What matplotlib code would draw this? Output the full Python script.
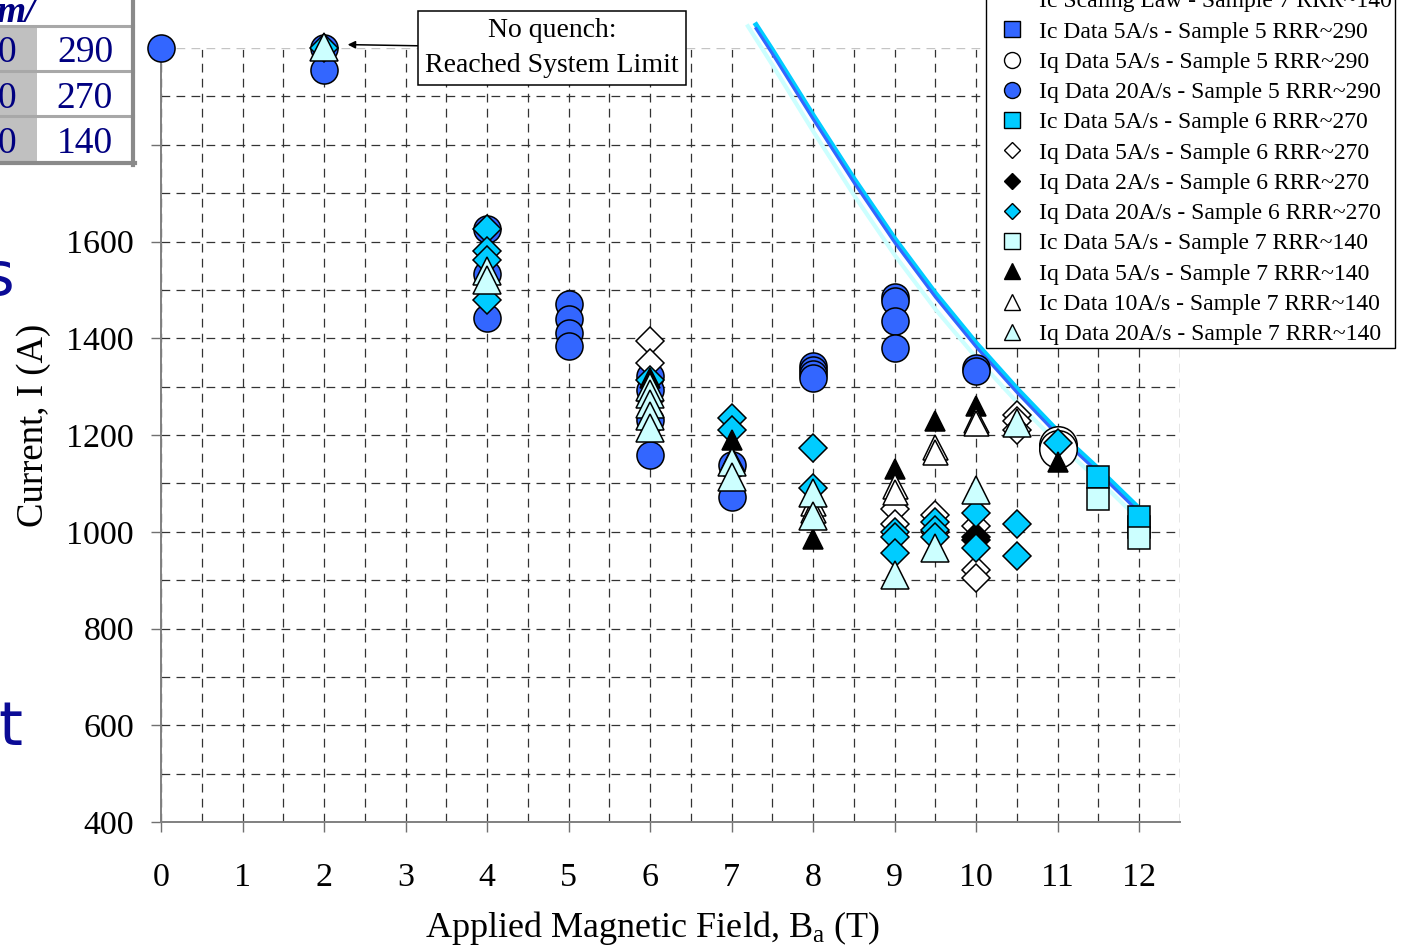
import matplotlib
matplotlib.use('Agg')
import matplotlib.pyplot as plt
from matplotlib.patches import Rectangle
from matplotlib.lines import Line2D
from matplotlib.ticker import MultipleLocator

# ---------------- data ----------------
# Ic scaling-law curves (field in T, current in A)
law_b = [7.3, 7.5, 8.0, 8.5, 9.0, 9.5, 10.0, 10.5, 11.0, 11.5, 12.0]
law_s5 = [2040, 1988, 1853, 1722, 1598, 1485, 1382, 1288, 1200, 1122, 1040]
law_s6 = [2048, 1996, 1861, 1730, 1606, 1493, 1390, 1296, 1208, 1130, 1048]
law_b7 = [7.2, 7.5, 8.0, 8.5, 9.0, 9.5, 10.0, 10.5, 11.0, 11.5, 12.0]
law_s7 = [2045, 1965, 1828, 1696, 1572, 1460, 1360, 1268, 1183, 1107, 1025]

# Sample 5, RRR~290
ic5_s5_b = [11, 12]
ic5_s5_i = [1175, 1010]
iq5_s5_b = [11, 11]
iq5_s5_i = [1180, 1172]
iq20_s5_b = [0, 2, 2, 4, 4, 4, 5, 5, 5, 5, 6, 6, 6, 6, 7, 7,
             8, 8, 8, 8, 9, 9, 9, 9, 10, 10]
iq20_s5_i = [2000, 2000, 1955, 1625, 1532, 1441, 1470, 1440, 1410, 1385,
             1321, 1294, 1232, 1159, 1137, 1071, 1342, 1335, 1327, 1318,
             1485, 1478, 1435, 1380, 1339, 1332]

# Sample 6, RRR~270
ic5_s6_b = [11.5, 12]
ic5_s6_i = [1114, 1030]
iq5_s6_b = [6, 6, 9, 9, 9.5, 9.5, 10, 10, 10, 10.5, 10.5, 10.5]
iq5_s6_i = [1395, 1349, 1047, 1015, 1035, 1000, 1011, 921, 904, 1242, 1228, 1211]
iq2_s6_b = [10, 10]
iq2_s6_i = [990, 982]
iq20_s6_b = [2, 4, 4, 4, 4, 6, 7, 7, 8, 8, 9, 9, 9, 9.5, 9.5, 9.5,
             10, 10, 10.5, 10.5, 11]
iq20_s6_i = [2000, 1625, 1580, 1562, 1480, 1314, 1235, 1211, 1174, 1090,
             999, 990, 956, 1021, 1004, 990, 1039, 966, 1016, 949, 1184]

# Sample 7, RRR~140
ic5_s7_b = [11.5, 12]
ic5_s7_i = [1068, 988]
iq5_s7_b = [6, 7, 8, 9, 9.5, 10, 11]
iq5_s7_i = [1318, 1189, 985, 1130, 1228, 1259, 1145]
ic10_s7_b = [6, 7, 8, 8, 9, 9, 9.5, 9.5, 10, 10]
ic10_s7_i = [1295, 1150, 1060, 1045, 1094, 1083, 1175, 1165, 1232, 1225]
iq20_s7_b = [2, 4, 4, 6, 6, 6, 6, 6, 7, 7, 8, 8, 9, 9.5, 10, 10.5]
iq20_s7_i = [2002, 1540, 1520, 1300, 1285, 1265, 1240, 1215, 1144, 1114,
             1081, 1032, 911, 967, 1087, 1225]

# RRR table fragment
rrr_values = ['290', '270', '140']

# ---------------- style ----------------
BLUE = '#3366FF'
CYAN = '#00CCFF'
LCYAN = '#CCFFFF'
NAVY = '#000080'

plt.rcParams['font.family'] = ['Liberation Serif', 'DejaVu Serif']
plt.rcParams['mathtext.fontset'] = 'custom'
plt.rcParams['mathtext.rm'] = 'Liberation Serif'
plt.rcParams['mathtext.it'] = 'Liberation Serif:italic'

W, H = 1407, 946
fig = plt.figure(figsize=(W / 100, H / 100), dpi=100)


def fx(px):
    return px / W


def fy(py):
    return 1 - py / H


ax = fig.add_axes([fx(161), fy(822), fx(1180) - fx(161), fy(48) - fy(822)])
ax.set_xlim(0, 12.5)
ax.set_ylim(400, 2000)

# scaling-law curves
ax.plot(law_b, law_s5, color=BLUE, lw=2.2, zorder=2.3, clip_on=False,
        label='Ic Scaling Law - Sample 5 RRR~290')
ax.plot(law_b, law_s6, color=CYAN, lw=3.6, zorder=2.2, clip_on=False,
        label='Ic Scaling Law - Sample 6 RRR~270')
ax.plot(law_b7, law_s7, color=LCYAN, lw=3.0, zorder=2.1, clip_on=False,
        label='Ic Scaling Law - Sample 7 RRR~140')

mk = dict(ls='none', mec='black', mew=1.1, clip_on=False, zorder=3)
SQ, CI, DI = 16.5, 19.5, 14.2
ax.plot(ic5_s5_b, ic5_s5_i, marker='s', ms=SQ, mfc=BLUE,
        label='Ic Data 5A/s - Sample 5 RRR~290', **mk)
ax.plot(iq5_s5_b, iq5_s5_i, marker='o', ms=27, mfc='white',
        label='Iq Data 5A/s - Sample 5 RRR~290', **mk)
ax.plot(iq20_s5_b, iq20_s5_i, marker='o', ms=CI, mfc=BLUE,
        label='Iq Data 20A/s - Sample 5 RRR~290', **mk)
ax.plot(ic5_s6_b, ic5_s6_i, marker='s', ms=SQ, mfc=CYAN,
        label='Ic Data 5A/s - Sample 6 RRR~270', **mk)
ax.plot(iq5_s6_b, iq5_s6_i, marker='D', ms=DI, mfc='white',
        label='Iq Data 5A/s - Sample 6 RRR~270', **mk)
ax.plot(iq2_s6_b, iq2_s6_i, marker='D', ms=DI, mfc='black',
        label='Iq Data 2A/s - Sample 6 RRR~270', **mk)
ax.plot(iq20_s6_b, iq20_s6_i, marker='D', ms=DI, mfc=CYAN,
        label='Iq Data 20A/s - Sample 6 RRR~270', **mk)
ax.plot(ic5_s7_b, ic5_s7_i, marker='s', ms=SQ, mfc=LCYAN,
        label='Ic Data 5A/s - Sample 7 RRR~140', **mk)
ax.plot(iq5_s7_b, iq5_s7_i, marker='^', ms=14.5, mfc='black',
        label='Iq Data 5A/s - Sample 7 RRR~140', **mk)
ax.plot(ic10_s7_b, ic10_s7_i, marker='^', ms=18, mfc='white',
        label='Ic Data 10A/s - Sample 7 RRR~140', **mk)
ax.plot(iq20_s7_b, iq20_s7_i, marker='^', ms=20, mfc=LCYAN,
        label='Iq Data 20A/s - Sample 7 RRR~140', **mk)

# axes, ticks, grid
ax.xaxis.set_major_locator(MultipleLocator(1))
ax.xaxis.set_minor_locator(MultipleLocator(0.5))
ax.yaxis.set_major_locator(MultipleLocator(200))
ax.yaxis.set_minor_locator(MultipleLocator(100))
ax.set_axisbelow(True)
ax.grid(which='both', color='#333333', linestyle=(0, (7, 5)), linewidth=0.9)
ax.axhline(2000, color='white', lw=2.0, zorder=0.6)
ax.axhline(2000, color='#C4C4C4', lw=0.9, ls=(0, (7, 5)), zorder=0.7)
for side in ('top', 'right'):
    ax.spines[side].set_visible(False)
for side in ('left', 'bottom'):
    ax.spines[side].set_color('#808080')
    ax.spines[side].set_linewidth(1.4)
ax.tick_params(which='major', direction='out', length=7.5, width=1,
               color='#707070', labelsize=24.5)
ax.tick_params(which='minor', length=0)
ax.tick_params(axis='x', pad=22)
ax.tick_params(axis='y', pad=12)

ax.set_xlabel('Applied Magnetic Field, B$_{\\mathrm{a}}$ (T)', fontsize=26)
ax.xaxis.set_label_coords(0.4828, -0.113)
ax.set_ylabel('Current, I (A)', fontsize=26.5)
ax.yaxis.set_label_coords(-0.1075, 0.513)

# annotation box
ax.annotate('No quench:\nReached System Limit', xy=(2.29, 2007), xycoords='data',
            xytext=(fx(552), fy(48)), textcoords='figure fraction',
            ha='center', va='center', fontsize=20, linespacing=1.5,
            bbox=dict(boxstyle='square,pad=0.25', fc='white', ec='black', lw=1.1),
            arrowprops=dict(arrowstyle='-|>', color='black', lw=1.1,
                            shrinkA=0, shrinkB=0, mutation_scale=11),
            annotation_clip=False, zorder=5)

# legend
leg = ax.legend(loc='lower right', bbox_to_anchor=(fx(1395), fy(348)),
                bbox_transform=fig.transFigure, fontsize=17, frameon=True,
                fancybox=False, edgecolor='black', framealpha=1,
                borderpad=0.12, labelspacing=0.37, handlelength=2.0,
                handletextpad=0.15, borderaxespad=0, numpoints=1)
leg.get_frame().set_linewidth(1.0)
leg_sizes = {'s': 11.5, 'o': 11.5, 'D': 7.8, '^': 12}
for h in leg.legend_handles:
    m = h.get_marker()
    if m in leg_sizes:
        h.set_markersize(leg_sizes[m])
        h.set_markeredgewidth(1.0)


# RRR table fragment in the upper left corner
def rect(x0, y0, x1, y1, **kw):
    fig.add_artist(Rectangle((fx(x0), fy(y1)), fx(x1) - fx(x0), fy(y0) - fy(y1),
                             transform=fig.transFigure, zorder=10, **kw))


def hline(y, x0, x1, color, lw):
    fig.add_artist(Line2D([fx(x0), fx(x1)], [fy(y), fy(y)], color=color, lw=lw,
                          transform=fig.transFigure, zorder=11))


def vline(x, y0, y1, color, lw):
    fig.add_artist(Line2D([fx(x), fx(x)], [fy(y0), fy(y1)], color=color, lw=lw,
                          transform=fig.transFigure, zorder=11))


rect(0, 0, 134, 164, fc='white', ec='none')
rect(0, 27, 37, 163, fc='#C0C0C0', ec='none')
hline(26.5, 0, 133, '#A8A8A8', 2.2)
hline(71.5, 0, 133, '#A8A8A8', 2.2)
hline(116.5, 0, 133, '#A8A8A8', 2.2)
hline(163, 0, 135, '#8A8A8A', 3.0)
vline(133, 0, 165, '#8A8A8A', 3.0)
fig.text(fx(36), fy(22), 'm/', fontsize=27, color=NAVY, fontweight='bold',
         fontstyle='italic', ha='right', va='baseline', zorder=12)
for k, val in enumerate(rrr_values):
    yc = 53 + 45.5 * k
    fig.text(fx(16), fy(yc), '0', fontsize=27, color=NAVY, ha='right',
             va='center', zorder=12)
    fig.text(fx(85), fy(yc), val, fontsize=27, color=NAVY, ha='center',
             va='center', zorder=12)

# slide text fragments at the left edge
fig.text(fx(14), fy(295), 's', fontsize=44, color='#0B0B96', family='DejaVu Sans',
         ha='right', va='baseline')
fig.text(fx(22), fy(745), 't', fontsize=44, color='#0B0B96', family='DejaVu Sans',
         ha='right', va='baseline')

fig.savefig('out.png', dpi=100)
